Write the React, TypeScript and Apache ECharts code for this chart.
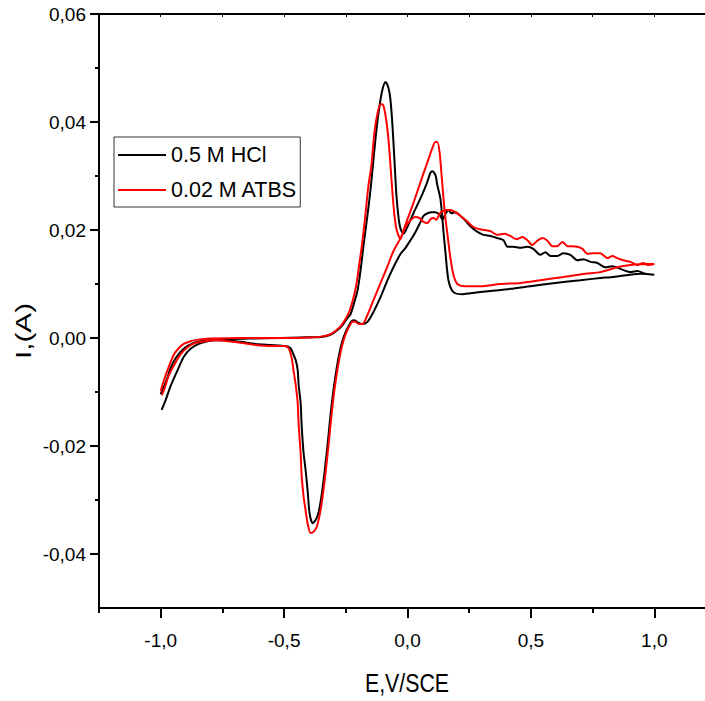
import React, { useEffect, useRef } from "react";
import * as echarts from "echarts";

// Axis tick positions
const xLabelValues = [-1, -0.5, 0, 0.5, 1];
const xMinorValues = [-1.25, -0.75, -0.25, 0.25, 0.75];
const xTopValues = [-1.25, -1, -0.75, -0.5, -0.25, 0, 0.25, 0.5, 0.75, 1];
const yLabelValues = [-0.04, -0.02, 0, 0.02, 0.04, 0.06];
const yMinorValues = [-0.03, -0.01, 0.01, 0.03, 0.05];

const seriesNames = ["0.5 M HCl", "0.02 M ATBS"];

// 0.5 M HCl: anodic sweep (-1.0 V -> +1.0 V), then cathodic sweep back
const hclAnodic: [number, number][] = [
  [-1.0, -0.0104], [-0.976, -0.0078], [-0.96, -0.0056], [-0.939, -0.0037], [-0.907, -0.002],
  [-0.866, -0.0009], [-0.81, -0.0004], [-0.749, -0.0002], [-0.636, -0.0001], [-0.514, 0.0],
  [-0.433, 0.0001], [-0.352, 0.0002], [-0.312, 0.0006], [-0.283, 0.0015], [-0.263, 0.0024],
  [-0.247, 0.0035], [-0.231, 0.0044], [-0.215, 0.0067], [-0.202, 0.0089], [-0.19, 0.0126],
  [-0.178, 0.0172], [-0.162, 0.0228], [-0.15, 0.0274], [-0.138, 0.033], [-0.126, 0.0385],
  [-0.113, 0.0431], [-0.101, 0.0461], [-0.089, 0.0474], [-0.077, 0.0463], [-0.069, 0.0441],
  [-0.061, 0.0394], [-0.053, 0.033], [-0.045, 0.0265], [-0.036, 0.0222], [-0.028, 0.0202],
  [-0.016, 0.0193], [-0.004, 0.0202], [0.024, 0.0231], [0.053, 0.0259], [0.077, 0.0285],
  [0.093, 0.0306], [0.101, 0.0309], [0.113, 0.0302], [0.121, 0.0283], [0.134, 0.0256],
  [0.146, 0.0196], [0.154, 0.0157], [0.166, 0.0107], [0.186, 0.0085], [0.223, 0.0081],
  [0.255, 0.0083], [0.336, 0.0087], [0.417, 0.0091], [0.498, 0.0096], [0.599, 0.0102],
  [0.7, 0.0107], [0.781, 0.0111], [0.834, 0.0113], [0.943, 0.0119], [1.0, 0.0117],
];
const hclCathodic: [number, number][] = [
  [1.0, 0.0117], [0.964, 0.0119], [0.931, 0.0124], [0.903, 0.0122], [0.862, 0.0128],
  [0.83, 0.0133], [0.802, 0.0131], [0.769, 0.0139], [0.741, 0.0141], [0.713, 0.0146],
  [0.688, 0.0144], [0.66, 0.0154], [0.632, 0.0157], [0.607, 0.0152], [0.579, 0.0152],
  [0.559, 0.0159], [0.538, 0.0154], [0.51, 0.0165], [0.486, 0.0169], [0.457, 0.0167],
  [0.429, 0.0169], [0.405, 0.0169], [0.389, 0.0181], [0.364, 0.0185], [0.336, 0.0189],
  [0.308, 0.0191], [0.279, 0.0198], [0.255, 0.0207], [0.235, 0.0217], [0.215, 0.0226],
  [0.194, 0.0233], [0.178, 0.0231], [0.166, 0.0237], [0.154, 0.023], [0.142, 0.0219],
  [0.13, 0.0228], [0.113, 0.0233], [0.097, 0.0233], [0.081, 0.0231], [0.065, 0.0226],
  [0.053, 0.0215], [0.032, 0.0196], [0.012, 0.0181], [-0.008, 0.0167], [-0.028, 0.0156],
  [-0.057, 0.0131], [-0.081, 0.0107], [-0.109, 0.0076], [-0.138, 0.0048], [-0.162, 0.003],
  [-0.182, 0.0026], [-0.198, 0.0028], [-0.215, 0.0033], [-0.227, 0.0031], [-0.239, 0.0022],
  [-0.251, 0.0011], [-0.263, -0.0004], [-0.275, -0.0026], [-0.287, -0.0056], [-0.3, -0.0096],
  [-0.312, -0.0143], [-0.324, -0.0198], [-0.336, -0.0248], [-0.348, -0.0291], [-0.36, -0.0322],
  [-0.372, -0.0337], [-0.385, -0.0343], [-0.397, -0.0324], [-0.405, -0.0281], [-0.413, -0.0244],
  [-0.421, -0.0213], [-0.429, -0.0161], [-0.433, -0.012], [-0.441, -0.0087], [-0.445, -0.0059],
  [-0.453, -0.0041], [-0.466, -0.0026], [-0.474, -0.0019], [-0.494, -0.0015], [-0.555, -0.0013],
  [-0.615, -0.0011], [-0.676, -0.0007], [-0.737, -0.0004], [-0.777, -0.0004], [-0.81, -0.0006],
  [-0.846, -0.0011], [-0.879, -0.002], [-0.907, -0.0035], [-0.931, -0.0059], [-0.96, -0.0089],
  [-0.98, -0.0115], [-0.996, -0.0133],
];

// 0.02 M ATBS: anodic sweep, then cathodic sweep back
const atbsAnodic: [number, number][] = [
  [-1.0, -0.0098], [-0.988, -0.008], [-0.972, -0.0059], [-0.947, -0.0031], [-0.927, -0.0019],
  [-0.907, -0.0011], [-0.879, -0.0006], [-0.85, -0.0003], [-0.798, -0.0001], [-0.676, 0.0],
  [-0.514, 0.0], [-0.393, 0.0001], [-0.344, 0.0003], [-0.312, 0.0007], [-0.287, 0.0015],
  [-0.267, 0.0024], [-0.251, 0.0035], [-0.235, 0.005], [-0.219, 0.0074], [-0.206, 0.0102],
  [-0.194, 0.0141], [-0.182, 0.0181], [-0.17, 0.0231], [-0.158, 0.0283], [-0.146, 0.032],
  [-0.134, 0.0381], [-0.121, 0.0417], [-0.109, 0.0433], [-0.101, 0.0433], [-0.093, 0.0422],
  [-0.085, 0.04], [-0.077, 0.0367], [-0.069, 0.032], [-0.061, 0.0269], [-0.053, 0.0228],
  [-0.045, 0.0202], [-0.036, 0.0189], [-0.028, 0.0183], [-0.016, 0.02], [0.0, 0.022],
  [0.024, 0.025], [0.053, 0.0289], [0.081, 0.0326], [0.101, 0.0352], [0.113, 0.0363],
  [0.121, 0.0363], [0.13, 0.0344], [0.138, 0.0302], [0.15, 0.0237], [0.162, 0.0191],
  [0.174, 0.0148], [0.186, 0.0117], [0.202, 0.01], [0.235, 0.0096], [0.296, 0.0096],
  [0.377, 0.01], [0.457, 0.0102], [0.538, 0.0107], [0.632, 0.0113], [0.721, 0.0119],
  [0.781, 0.0122], [0.85, 0.0131], [0.903, 0.0135], [0.964, 0.0137], [1.0, 0.0137],
];
const atbsCathodic: [number, number][] = [
  [1.0, 0.0137], [0.976, 0.0135], [0.955, 0.0139], [0.931, 0.0135], [0.903, 0.0141],
  [0.874, 0.0144], [0.85, 0.0148], [0.83, 0.0152], [0.81, 0.0148], [0.781, 0.0157],
  [0.753, 0.0157], [0.729, 0.0156], [0.709, 0.0165], [0.688, 0.0169], [0.664, 0.017],
  [0.648, 0.017], [0.628, 0.0178], [0.607, 0.017], [0.587, 0.017], [0.567, 0.018],
  [0.547, 0.0185], [0.526, 0.018], [0.506, 0.0172], [0.486, 0.0181], [0.466, 0.0187],
  [0.441, 0.0183], [0.417, 0.0189], [0.393, 0.0193], [0.364, 0.0191], [0.336, 0.0198],
  [0.312, 0.02], [0.287, 0.0202], [0.263, 0.0207], [0.239, 0.0217], [0.215, 0.0226],
  [0.194, 0.0233], [0.174, 0.0237], [0.158, 0.0237], [0.142, 0.0235], [0.13, 0.023],
  [0.117, 0.0219], [0.105, 0.0222], [0.093, 0.022], [0.081, 0.0213], [0.065, 0.0215],
  [0.049, 0.0222], [0.032, 0.0224], [0.016, 0.022], [0.0, 0.0211], [-0.016, 0.0198],
  [-0.028, 0.0185], [-0.057, 0.0161], [-0.081, 0.0133], [-0.109, 0.0102], [-0.138, 0.007],
  [-0.162, 0.0043], [-0.182, 0.0026], [-0.198, 0.0026], [-0.211, 0.003], [-0.223, 0.003],
  [-0.235, 0.0022], [-0.247, 0.0011], [-0.259, -0.0004], [-0.271, -0.0026], [-0.283, -0.0056],
  [-0.296, -0.0096], [-0.308, -0.0143], [-0.32, -0.0198], [-0.332, -0.025], [-0.344, -0.0294],
  [-0.356, -0.0328], [-0.368, -0.035], [-0.381, -0.0359], [-0.393, -0.0361], [-0.405, -0.0343],
  [-0.413, -0.0319], [-0.421, -0.0294], [-0.429, -0.0254], [-0.433, -0.0213], [-0.441, -0.0161],
  [-0.445, -0.012], [-0.453, -0.0087], [-0.462, -0.0059], [-0.47, -0.0035], [-0.482, -0.0019],
  [-0.498, -0.0015], [-0.555, -0.0015], [-0.615, -0.0013], [-0.676, -0.0009], [-0.725, -0.0006],
  [-0.777, -0.0004], [-0.818, -0.0006], [-0.858, -0.0009], [-0.891, -0.0017], [-0.919, -0.003],
  [-0.943, -0.0048], [-0.968, -0.007], [-0.984, -0.0093], [-0.996, -0.0106],
];

const FONT = "'Liberation Sans', Arial, sans-serif";
const X_MIN = -1.25;
const X_MAX = 1.25;
const Y_MIN = -0.05;
const Y_MAX = 0.06;

// The frame shows 705 px; the plot's right-hand end (E = 1.25 V) lies just past it.
const VIEW_W = 705;
const VIEW_H = 701;
const CHART_W = 716;

const commaDecimal = (v: number, digits: number) => v.toFixed(digits).replace(".", ",");

export default function App() {
  const ref = useRef<HTMLDivElement>(null);

  useEffect(() => {
    if (!ref.current) return;
    const chart = echarts.init(ref.current, undefined, { renderer: "svg" });

    const hiddenAxisParts = {
      axisLine: { show: false, onZero: false },
      axisLabel: { show: false },
      splitLine: { show: false },
    };

    chart.setOption({
      animation: false,
      backgroundColor: "#ffffff",
      textStyle: { fontFamily: FONT },
      grid: { left: 99, top: 14, right: 0, bottom: 93, containLabel: false },
      legend: {
        orient: "vertical",
        left: 114,
        top: 137,
        data: seriesNames,
        icon: "rect",
        itemWidth: 48,
        itemHeight: 2,
        itemGap: 9,
        padding: [5, 3, 4, 4],
        borderColor: "#333333",
        borderWidth: 1,
        backgroundColor: "#ffffff",
        textStyle: { fontFamily: FONT, fontSize: 21.5, lineHeight: 26, color: "#000000" },
      },
      xAxis: [
        {
          type: "value",
          min: X_MIN,
          max: X_MAX,
          interval: 0.25,
          position: "bottom",
          axisLine: { show: true, onZero: false, lineStyle: { color: "#000000", width: 2 } },
          axisTick: { show: true, customValues: xLabelValues, length: 10, lineStyle: { color: "#000000", width: 2 } },
          axisLabel: {
            customValues: xLabelValues,
            formatter: (v: number) => commaDecimal(v, 1),
            fontFamily: FONT,
            fontSize: 19,
            margin: 23,
            color: "#000000",
          },
          splitLine: { show: false },
        },
        {
          type: "value",
          min: X_MIN,
          max: X_MAX,
          interval: 0.25,
          position: "bottom",
          ...hiddenAxisParts,
          axisTick: { show: true, customValues: xMinorValues, length: 5, lineStyle: { color: "#000000", width: 2 } },
        },
        {
          type: "value",
          min: X_MIN,
          max: X_MAX,
          interval: 0.25,
          position: "top",
          axisLine: { show: true, onZero: false, lineStyle: { color: "#000000", width: 2 } },
          axisTick: { show: true, inside: true, customValues: xTopValues, length: 3, lineStyle: { color: "#000000", width: 1 } },
          axisLabel: { show: false },
          splitLine: { show: false },
        },
      ],
      yAxis: [
        {
          type: "value",
          min: Y_MIN,
          max: Y_MAX,
          interval: 0.01,
          position: "left",
          axisLine: { show: true, onZero: false, lineStyle: { color: "#000000", width: 2 } },
          axisTick: { show: true, customValues: yLabelValues, length: 9, lineStyle: { color: "#000000", width: 2 } },
          axisLabel: {
            customValues: yLabelValues,
            formatter: (v: number) => commaDecimal(v, 2),
            fontFamily: FONT,
            fontSize: 19,
            margin: 13,
            color: "#000000",
          },
          splitLine: { show: false },
        },
        {
          type: "value",
          min: Y_MIN,
          max: Y_MAX,
          interval: 0.01,
          position: "left",
          ...hiddenAxisParts,
          axisTick: { show: true, customValues: yMinorValues, length: 4, lineStyle: { color: "#000000", width: 2 } },
        },
      ],
      graphic: [
        {
          // x-axis title, set in a condensed face
          type: "text",
          x: 407,
          y: 683,
          scaleX: 0.82,
          style: {
            text: "E,V/SCE",
            align: "center",
            verticalAlign: "middle",
            fontFamily: FONT,
            fontSize: 26,
            fill: "#000000",
          },
        },
        {
          // y-axis title, reading bottom to top
          type: "text",
          x: 23,
          y: 331,
          rotation: Math.PI / 2,
          scaleX: 1.35,
          style: {
            text: "I,(A)",
            align: "center",
            verticalAlign: "middle",
            fontFamily: FONT,
            fontSize: 22,
            fill: "#000000",
          },
        },
      ],
      series: [
        {
          name: seriesNames[0],
          type: "line",
          xAxisIndex: 0,
          yAxisIndex: 0,
          data: [...hclAnodic, ...hclCathodic.slice(1)],
          showSymbol: false,
          symbol: "none",
          smooth: 0.25,
          lineStyle: { color: "#000000", width: 2 },
          itemStyle: { color: "#000000" },
        },
        {
          name: seriesNames[1],
          type: "line",
          xAxisIndex: 0,
          yAxisIndex: 0,
          data: [...atbsAnodic, ...atbsCathodic.slice(1)],
          showSymbol: false,
          symbol: "none",
          smooth: 0.25,
          lineStyle: { color: "#ff0000", width: 2 },
          itemStyle: { color: "#ff0000" },
        },
      ],
    });

    return () => chart.dispose();
  }, []);

  return (
    <div
      style={{
        position: "absolute",
        left: 0,
        top: 0,
        width: VIEW_W,
        height: VIEW_H,
        overflow: "hidden",
        background: "#ffffff",
      }}
    >
      <div ref={ref} style={{ width: CHART_W, height: VIEW_H }} />
    </div>
  );
}
